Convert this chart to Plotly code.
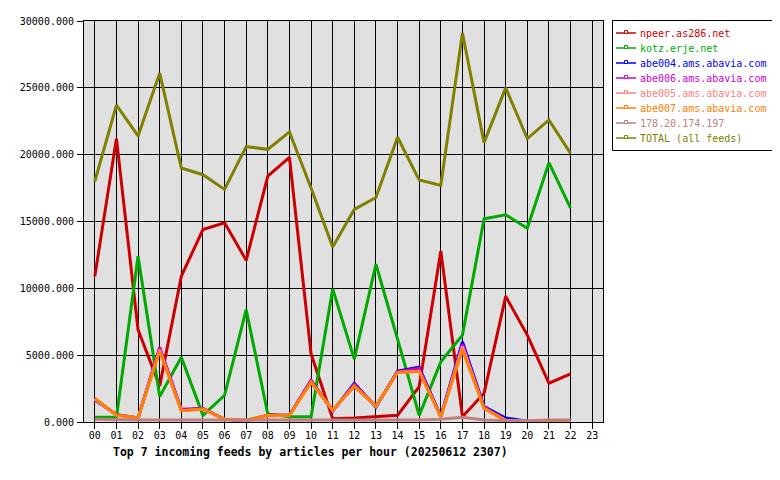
import plotly.graph_objects as go

hours = [f"{h:02d}" for h in range(24)]
x_hours = list(range(23))

npeer = [10900, 21200, 6900, 2700, 10900, 14400, 14900, 12100, 18400, 19800, 5100, 250,
         300, 400, 500, 2650, 12800, 400, 2150, 9400, 6500, 2900, 3600]
kotz = [350, 350, 12400, 1900, 4850, 500, 2000, 8400, 600, 400, 400, 9950,
        4700, 11800, 6200, 500, 4500, 6500, 15200, 15500, 14500, 19400, 16000]
abe004 = [1650, 550, 300, 5500, 900, 1000, 200, 100, 500, 500, 3100, 800,
          2900, 1100, 3800, 4100, 400, 6000, 1150, 300, 50, 0, 0]
abe006 = [1700, 550, 300, 5600, 950, 1000, 200, 100, 500, 500, 3100, 850,
          2800, 1200, 3750, 4000, 400, 5800, 1100, 150, 0, 0, 0]
abe005 = [1700, 500, 300, 5400, 850, 950, 200, 100, 450, 500, 2950, 850,
          2650, 1150, 3700, 3800, 350, 5650, 1000, 100, 0, 0, 0]
abe007 = [1775, 525, 325, 5300, 850, 975, 225, 150, 500, 500, 3000, 900,
          2700, 1200, 3700, 3800, 400, 5400, 1050, 100, 0, 0, 0]
ip178 = [200, 150, 150, 150, 150, 150, 150, 150, 150, 150, 100, 100,
         100, 100, 150, 150, 200, 350, 150, 100, 100, 150, 150]
total = [18000, 23700, 21400, 26100, 19000, 18500, 17400, 20600, 20400, 21700, 17500, 13100,
         15900, 16800, 21300, 18100, 17700, 29100, 20900, 25000, 21200, 22600, 20100]

series_names = ["npeer.as286.net", "kotz.erje.net", "abe004.ams.abavia.com",
                "abe006.ams.abavia.com", "abe005.ams.abavia.com", "abe007.ams.abavia.com",
                "178.20.174.197", "TOTAL (all feeds)"]
series_values = [npeer, kotz, abe004, abe006, abe005, abe007, ip178, total]
series_colors = ["#CC0000", "#00AA00", "#0000FF", "#CC00CC", "#FF8080", "#FF8000",
                 "#C08080", "#808000"]

OFF = 8  # page body margin in the browser
W, H = 780 - 2 * OFF, 480 - 2 * OFF
# plot area in screen pixels of the reference
L, R, T, B = 84, 603, 21, 422


def px(xp):
    return (xp - L) / (R - L)


def py(yp):
    return (B - yp) / (B - T)


fig = go.Figure()
for name, vals, col in zip(series_names, series_values, series_colors):
    fig.add_trace(go.Scatter(
        x=x_hours, y=vals, name=name, mode="lines",
        line=dict(color=col, width=3), showlegend=False,
    ))

font_family = "DejaVu Sans Mono"

# manual legend box
shapes = [dict(type="rect", xref="paper", yref="paper",
               x0=px(612.5), x1=px(772.5), y0=py(150.5), y1=py(20.5),
               line=dict(color="black", width=1), fillcolor="white", layer="above")]
annotations = []
for i, (name, col) in enumerate(zip(series_names, series_colors)):
    yc = 33 + i * 15
    shapes.append(dict(type="line", xref="paper", yref="paper",
                       x0=px(616), x1=px(636), y0=py(yc), y1=py(yc),
                       line=dict(color=col, width=1.5), layer="above"))
    shapes.append(dict(type="rect", xref="paper", yref="paper",
                       x0=px(624.5), x1=px(627.5), y0=py(yc + 0.5), y1=py(yc - 2.5),
                       line=dict(color=col, width=1), fillcolor="white", layer="above"))
    annotations.append(dict(text=name, xref="paper", yref="paper",
                            x=px(638), y=py(yc), xanchor="left", yanchor="middle",
                            showarrow=False,
                            font=dict(family=font_family, size=10, color=col)))

annotations.append(dict(
    text="<b>Top 7 incoming feeds by articles per hour (20250612 2307)</b>",
    xref="paper", yref="paper", x=px(310), y=py(452),
    xanchor="center", yanchor="middle", showarrow=False,
    font=dict(family=font_family, size=11.5, color="black"),
))

fig.update_layout(
    width=W, height=H,
    margin=dict(l=L - OFF, r=W - (R - OFF), t=T - OFF, b=H - (B - OFF), autoexpand=False),
    paper_bgcolor="white",
    plot_bgcolor="#E0E0E0",
    font=dict(family=font_family, size=10, color="black"),
    showlegend=False,
    xaxis=dict(
        range=[-0.5, 23.5], tickmode="array",
        tickvals=list(range(24)), ticktext=hours,
        showgrid=True, gridcolor="black", gridwidth=1,
        ticks="outside", ticklen=6, tickcolor="black",
        ticklabelstandoff=-2,
        showline=True, linecolor="black", linewidth=1, mirror=True,
        zeroline=False, fixedrange=True,
    ),
    yaxis=dict(
        range=[0, 30000], tickmode="array",
        tickvals=[0, 5000, 10000, 15000, 20000, 25000, 30000],
        tickformat=".3f",
        showgrid=True, gridcolor="black", gridwidth=1,
        ticks="outside", ticklen=6, tickcolor="black",
        ticklabelstandoff=1,
        showline=True, linecolor="black", linewidth=1, mirror=True,
        zeroline=False, fixedrange=True,
    ),
    shapes=shapes,
    annotations=annotations,
)

fig.write_html("out.html")
